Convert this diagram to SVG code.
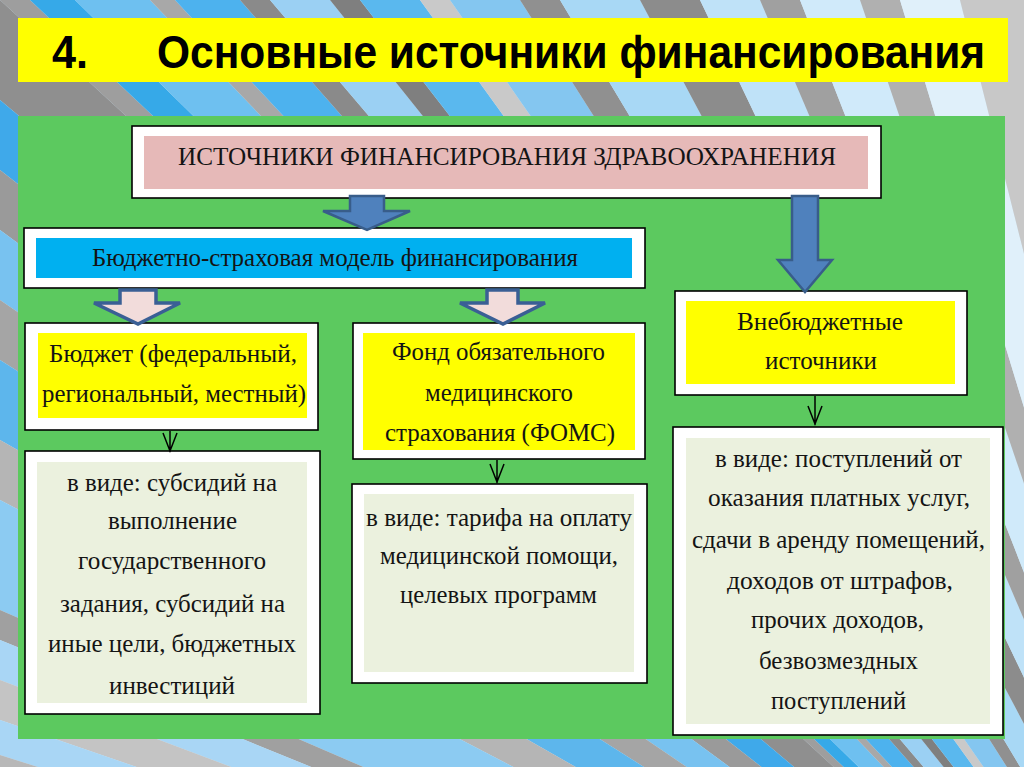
<svg xmlns="http://www.w3.org/2000/svg" width="1024" height="767" viewBox="0 0 1024 767">
<defs>
<style>
.box{fill:#ffffff;stroke:#000000;stroke-width:1.6}
.yel{fill:#ffff00}
.lg{fill:#ebf1de}
.t{font-family:"Liberation Serif","Times New Roman",serif;font-size:26px;fill:#141414}
.big{fill:#4f81bd;stroke:#385d8a;stroke-width:2.5;stroke-linejoin:miter}
.pink{fill:#f2dcdb;stroke:#3a5f95;stroke-width:3.5;stroke-linejoin:miter}
.small{fill:none;stroke:#000000;stroke-width:1.5}
.ttl{font-family:"Liberation Sans",Arial,sans-serif;font-weight:bold;font-size:47px;fill:#000000}
</style>
</defs>
<g id="background">
<rect x="0" y="0" width="1024" height="767" fill="#d4e9f7"/>
<polygon points="1250,1150 0,0 30,0" fill="#9e9e9e"/>
<polygon points="1250,1150 30,0 75,0" fill="#36a9e8"/>
<polygon points="1250,1150 75,0 150,0" fill="#6ec0f0"/>
<polygon points="1250,1150 150,0 175,0" fill="#a8a8a8"/>
<polygon points="1250,1150 175,0 240,0" fill="#4db2ee"/>
<polygon points="1250,1150 240,0 270,0" fill="#8a8a8a"/>
<polygon points="1250,1150 270,0 330,0" fill="#9bd0f3"/>
<polygon points="1250,1150 330,0 360,0" fill="#7f7f7f"/>
<polygon points="1250,1150 360,0 420,0" fill="#5ab8ee"/>
<polygon points="1250,1150 420,0 450,0" fill="#c9c9c9"/>
<polygon points="1250,1150 450,0 520,0" fill="#84c6f0"/>
<polygon points="1250,1150 520,0 560,0" fill="#909090"/>
<polygon points="1250,1150 560,0 640,0" fill="#a8d8f5"/>
<polygon points="1250,1150 640,0 700,0" fill="#8c8c8c"/>
<polygon points="1250,1150 700,0 760,0" fill="#bfe2f8"/>
<polygon points="1250,1150 760,0 800,0" fill="#a0a0a0"/>
<polygon points="1250,1150 800,0 860,0" fill="#d0eafa"/>
<polygon points="1250,1150 860,0 900,0" fill="#b0b0b0"/>
<polygon points="1250,1150 900,0 960,0" fill="#e0f0fa"/>
<polygon points="1250,1150 960,0 1024,0" fill="#c8c8c8"/>
<polygon points="1250,1150 0,0 0,100" fill="#8f8f8f"/>
<polygon points="1250,1150 0,100 0,170" fill="#3fa9ea"/>
<polygon points="1250,1150 0,170 0,230" fill="#9a9a9a"/>
<polygon points="1250,1150 0,230 0,300" fill="#78c2f0"/>
<polygon points="1250,1150 0,300 0,360" fill="#a5a5a5"/>
<polygon points="1250,1150 0,360 0,440" fill="#5db6ec"/>
<polygon points="1250,1150 0,440 0,500" fill="#b5b5b5"/>
<polygon points="1250,1150 0,500 0,610" fill="#8ccbf2"/>
<polygon points="1250,1150 0,610 0,640" fill="#a0a0a0"/>
<polygon points="1250,1150 0,640 0,680" fill="#a9d6f5"/>
<polygon points="1250,1150 0,680 0,720" fill="#c4c4c4"/>
<polygon points="1250,1150 0,720 0,755" fill="#a9d6f5"/>
<polygon points="1250,1150 0,755 0,767" fill="#b8b8b8"/>
</g>
<g id="title">
<rect x="18" y="18" width="990" height="64" fill="#ffff00"/>
<text class="ttl" x="52" y="68" textLength="36" lengthAdjust="spacingAndGlyphs">4.</text>
<g transform="translate(157,68) scale(0.86,1)">
<text class="ttl" x="0" y="0" textLength="963" lengthAdjust="spacingAndGlyphs">Основные источники финансирования</text>
</g>
</g>
<rect id="panel" x="18" y="116" width="987" height="623" fill="#5cc95f"/>
<g id="node-header">
<rect class="box" x="132" y="126" width="749" height="72"/>
<rect x="144" y="136" width="724" height="53" fill="#e6b9b8"/>
<text class="t" x="178" y="165" textLength="658" lengthAdjust="spacingAndGlyphs">ИСТОЧНИКИ ФИНАНСИРОВАНИЯ ЗДРАВООХРАНЕНИЯ</text>
</g>
<g id="node-model">
<rect class="box" x="24" y="228" width="621" height="60"/>
<rect x="36" y="238" width="596" height="40" fill="#00b0f0"/>
<text class="t" x="92" y="266" font-size="24" textLength="486" lengthAdjust="spacingAndGlyphs">Бюджетно-страховая модель финансирования</text>
</g>
<g id="node-budget">
<rect class="box" x="25" y="323" width="293" height="107"/>
<rect class="yel" x="38" y="333" width="269" height="85"/>
<text class="t" x="49" y="362" textLength="248" lengthAdjust="spacingAndGlyphs">Бюджет (федеральный,</text>
<text class="t" x="42" y="402" textLength="264" lengthAdjust="spacingAndGlyphs">региональный, местный)</text>
</g>
<g id="node-foms">
<rect class="box" x="353" y="323" width="292" height="136"/>
<rect class="yel" x="363" y="333" width="272" height="117"/>
<text class="t" x="392" y="360" textLength="213" lengthAdjust="spacingAndGlyphs">Фонд обязательного</text>
<text class="t" x="425" y="401" textLength="148" lengthAdjust="spacingAndGlyphs">медицинского</text>
<text class="t" x="385" y="441" textLength="230" lengthAdjust="spacingAndGlyphs">страхования (ФОМС)</text>
</g>
<g id="node-extra">
<rect class="box" x="675" y="291" width="292" height="104"/>
<rect class="yel" x="686" y="301" width="269" height="83"/>
<text class="t" x="737" y="330" textLength="166" lengthAdjust="spacingAndGlyphs">Внебюджетные</text>
<text class="t" x="765" y="369" textLength="112" lengthAdjust="spacingAndGlyphs">источники</text>
</g>
<g id="node-budget-detail">
<rect class="box" x="25" y="451" width="295" height="263"/>
<rect class="lg" x="37" y="462" width="270" height="241"/>
<text class="t" x="67" y="491" textLength="210" lengthAdjust="spacingAndGlyphs">в виде: субсидий на</text>
<text class="t" x="108" y="529" textLength="129" lengthAdjust="spacingAndGlyphs">выполнение</text>
<text class="t" x="78" y="569" textLength="188" lengthAdjust="spacingAndGlyphs">государственного</text>
<text class="t" x="60" y="612" textLength="225" lengthAdjust="spacingAndGlyphs">задания, субсидий на</text>
<text class="t" x="48" y="652" textLength="248" lengthAdjust="spacingAndGlyphs">иные цели, бюджетных</text>
<text class="t" x="109" y="694" textLength="126" lengthAdjust="spacingAndGlyphs">инвестиций</text>
</g>
<g id="node-foms-detail">
<rect class="box" x="352" y="484" width="295" height="199"/>
<rect class="lg" x="364" y="494" width="270" height="178"/>
<text class="t" x="366" y="526" textLength="266" lengthAdjust="spacingAndGlyphs">в виде: тарифа на оплату</text>
<text class="t" x="380" y="564" textLength="238" lengthAdjust="spacingAndGlyphs">медицинской помощи,</text>
<text class="t" x="400" y="603" textLength="197" lengthAdjust="spacingAndGlyphs">целевых программ</text>
</g>
<g id="node-extra-detail">
<rect class="box" x="673" y="427" width="330" height="308"/>
<rect class="lg" x="686" y="438" width="304" height="286"/>
<text class="t" x="715" y="467" textLength="247" lengthAdjust="spacingAndGlyphs">в виде: поступлений от</text>
<text class="t" x="708" y="506" textLength="262" lengthAdjust="spacingAndGlyphs">оказания платных услуг,</text>
<text class="t" x="692" y="548" textLength="293" lengthAdjust="spacingAndGlyphs">сдачи в аренду помещений,</text>
<text class="t" x="727" y="589" textLength="226" lengthAdjust="spacingAndGlyphs">доходов от штрафов,</text>
<text class="t" x="751" y="628" textLength="173" lengthAdjust="spacingAndGlyphs">прочих доходов,</text>
<text class="t" x="759" y="669" textLength="159" lengthAdjust="spacingAndGlyphs">безвозмездных</text>
<text class="t" x="771" y="709" textLength="135" lengthAdjust="spacingAndGlyphs">поступлений</text>
</g>
<g id="connectors">
<polygon class="big" points="350,196 384,196 384,211 410,211 367,230 323,211 350,211"/>
<polygon class="big" points="792,196 818,196 818,260 832,260 805,292 778,260 792,260"/>
<polygon class="pink" points="120,290 156,290 156,303 180,303 138,324 94,303 120,303"/>
<polygon class="pink" points="487,290 518,290 518,303 545,303 503,324 460,303 487,303"/>
<path class="small" d="M170,431 V452 M163,433 L170,451 L177,433"/>
<path class="small" d="M497,460 V483 M490,464 L497,482 L504,464"/>
<path class="small" d="M815,396 V425 M808,406 L815,424 L822,406"/>
</g>
</svg>
